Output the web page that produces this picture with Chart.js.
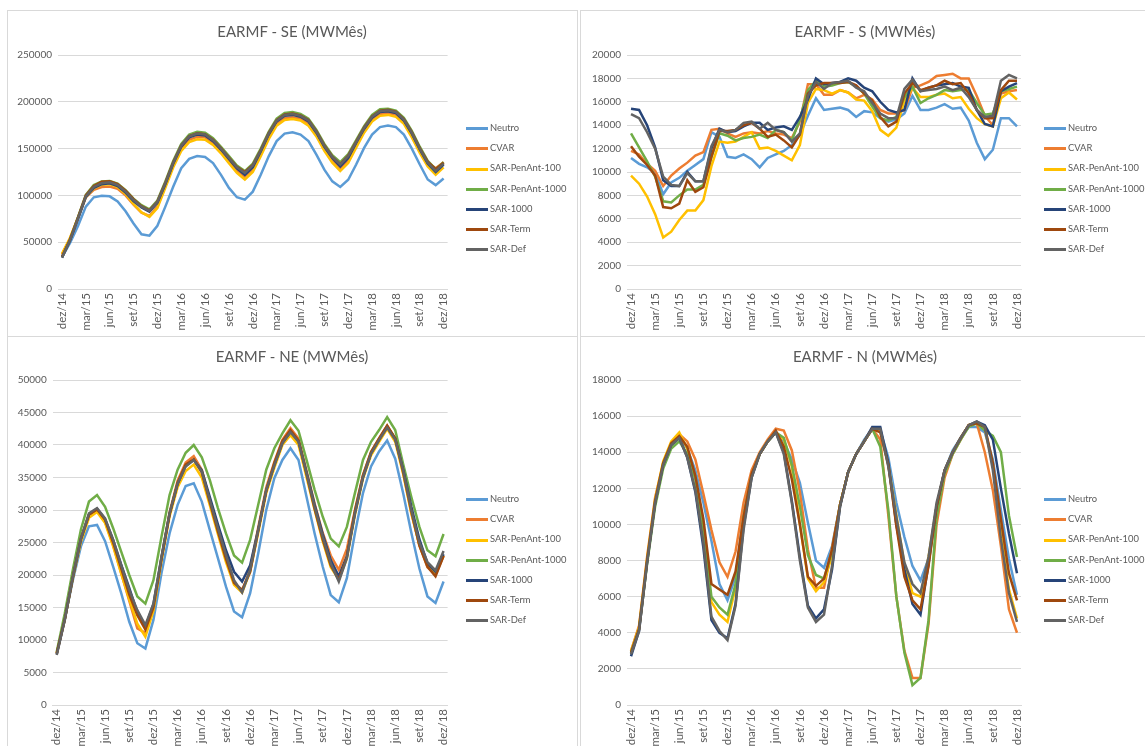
<!DOCTYPE html>
<html>
<head>
<meta charset="utf-8">
<script src="https://cdn.jsdelivr.net/npm/chart.js@4.4.1/dist/chart.umd.min.js"></script>
<style>
    body { margin: 0; background: #fff; width: 1145px; height: 746px; overflow: hidden; position: relative; font-family: Lato, "Liberation Sans", sans-serif; }
    .panel { position: absolute; border: 1px solid #d9d9d9; box-sizing: border-box; background: #fff; }
    .box { position: absolute; }
    .title { position: absolute; color: #595959; font-size: 15px; transform: translate(-50%, -50%); white-space: nowrap; }
    .legend { position: absolute; color: #595959; font-size: 9.4px; }
    .legend div { position: relative; height: 20.2px; line-height: 20.2px; white-space: nowrap; }
    .legend span { display: inline-block; width: 22px; height: 3px; vertical-align: middle; margin-right: 2px; }
</style>
</head>
<body>
<script>
    const months = ['dez/14', 'jan/15', 'fev/15', 'mar/15', 'abr/15', 'mai/15', 'jun/15', 'jul/15', 'ago/15', 'set/15', 'out/15', 'nov/15',
        'dez/15', 'jan/16', 'fev/16', 'mar/16', 'abr/16', 'mai/16', 'jun/16', 'jul/16', 'ago/16', 'set/16', 'out/16', 'nov/16',
        'dez/16', 'jan/17', 'fev/17', 'mar/17', 'abr/17', 'mai/17', 'jun/17', 'jul/17', 'ago/17', 'set/17', 'out/17', 'nov/17',
        'dez/17', 'jan/18', 'fev/18', 'mar/18', 'abr/18', 'mai/18', 'jun/18', 'jul/18', 'ago/18', 'set/18', 'out/18', 'nov/18', 'dez/18'];

    const seriesNames = ['Neutro', 'CVAR', 'SAR-PenAnt-100', 'SAR-PenAnt-1000', 'SAR-1000', 'SAR-Term', 'SAR-Def'];
    const seriesColors = ['#5b9bd5', '#ed7d31', '#ffc000', '#70ad47', '#264478', '#9e480e', '#636363'];

    // EARMF - SE
    const seNeutro = [34000, 49000, 67000, 88000, 98000, 99600, 99000, 93500, 83000, 70000, 58500, 57000, 67500, 88000, 109500, 129000, 139000, 142000, 141000, 134500, 122000, 108000, 98000, 95500, 104000, 122000, 141700, 158000, 166000, 167500, 165000, 158000, 143500, 127500, 115000, 109000, 116700, 133000, 150700, 165000, 173000, 174600, 173000, 165000, 150000, 133000, 117000, 111000, 118000];
    const seCvar = [37000, 54000, 76000, 98000, 106000, 109000, 109500, 107000, 100000, 90000, 81500, 78000, 88000, 110000, 132000, 150000, 159500, 162500, 162000, 156000, 147000, 137000, 127000, 120000, 128000, 144000, 162500, 176500, 182500, 183500, 182000, 176500, 165000, 150000, 138000, 129000, 137500, 153500, 169000, 181000, 187000, 188000, 186000, 179000, 165000, 149000, 135000, 129000, 135500];
    const sePenAnt100 = [37500, 54500, 76000, 98500, 107500, 111500, 112000, 109000, 101500, 91000, 82000, 77000, 86500, 108000, 130000, 147500, 157000, 160000, 159500, 154000, 145000, 134500, 124000, 117000, 125000, 142000, 160000, 174500, 180500, 181500, 180000, 174500, 163000, 147500, 135000, 126000, 134500, 151000, 167000, 179000, 185000, 186000, 184000, 176500, 162000, 145500, 131000, 122000, 130000];
    const sePenAnt1000 = [34000, 52500, 76500, 100500, 111000, 115000, 115500, 112500, 105500, 96500, 89500, 85000, 94500, 115000, 137000, 155000, 165000, 168000, 167000, 161000, 152000, 142000, 132000, 126000, 134000, 150000, 168000, 182000, 188000, 189000, 187000, 182000, 170000, 155000, 143000, 135500, 144000, 159000, 174000, 186000, 192000, 192500, 190500, 183000, 169000, 152000, 137000, 128000, 135500];
    const seSar1000 = [33500, 51500, 74500, 98500, 108000, 112000, 113000, 110000, 103000, 94000, 87000, 82500, 92000, 112000, 134000, 152000, 162000, 165000, 164000, 158000, 149000, 139000, 129000, 122000, 130000, 147000, 165000, 179000, 185000, 186000, 184000, 179000, 167000, 152000, 140000, 131000, 140000, 156000, 171000, 183000, 189000, 190000, 188000, 180000, 166000, 149000, 134000, 125000, 133000];
    const seTerm = [34500, 52500, 76000, 100000, 110000, 114500, 115000, 112000, 105000, 96000, 88500, 84000, 93500, 113500, 135500, 153500, 163500, 166500, 165500, 159500, 150500, 140500, 130500, 125000, 132500, 148500, 166500, 180500, 186500, 187500, 185500, 180500, 168500, 153500, 141500, 133500, 142500, 157500, 172500, 184500, 190500, 191500, 189500, 181500, 167500, 150500, 136000, 128000, 135000];
    const seDef = [33500, 52000, 75000, 99000, 109000, 113000, 114000, 111000, 104000, 95000, 88000, 83500, 93000, 113000, 135000, 153000, 163000, 166000, 165000, 159000, 150000, 140000, 130000, 124000, 132000, 148000, 166000, 180000, 186000, 187000, 185000, 180000, 168000, 153000, 141000, 133000, 142000, 157000, 172000, 184000, 190000, 191000, 189000, 181000, 167000, 150000, 135000, 126000, 134000];

    // EARMF - S
    const sNeutro = [11200, 10700, 10400, 9900, 8100, 9100, 9500, 10100, 10600, 11100, 13400, 13000, 11300, 11200, 11500, 11100, 10400, 11200, 11500, 11800, 12300, 13200, 14800, 16300, 15300, 15400, 15500, 15300, 14700, 15200, 15100, 14600, 14300, 14500, 15000, 16500, 15300, 15300, 15500, 15800, 15400, 15500, 14400, 12500, 11100, 11900, 14600, 14600, 13900];
    const sCvar = [11800, 11500, 10700, 10100, 8800, 9700, 10300, 10800, 11400, 11700, 13600, 13700, 13300, 13000, 13300, 13400, 13300, 13500, 13300, 13200, 12900, 14300, 17500, 17500, 16600, 16600, 17000, 16800, 16300, 16600, 16200, 15300, 15000, 15000, 15300, 17200, 17400, 17700, 18200, 18300, 18400, 18000, 18000, 16500, 14800, 14000, 16700, 16900, 17000];
    const sPenAnt100 = [9700, 9000, 7900, 6400, 4400, 4900, 5900, 6700, 6700, 7600, 10500, 12600, 12500, 12600, 13000, 13400, 12000, 12100, 11800, 11400, 11000, 12300, 15900, 17100, 17000, 16700, 17000, 16800, 16200, 16100, 15200, 13600, 13100, 13800, 16100, 17200, 16400, 16400, 16600, 16700, 16300, 16400, 15400, 14600, 14100, 13900, 16300, 16800, 16200];
    const sPenAnt1000 = [13300, 12100, 10900, 9600, 7500, 7400, 8000, 8500, 8500, 8900, 11300, 13300, 13100, 12700, 12900, 13000, 13200, 12900, 13600, 13400, 12700, 14500, 17000, 17800, 17300, 17400, 17600, 17700, 17300, 16700, 15600, 14600, 14400, 14700, 16400, 17300, 15900, 16300, 16600, 17000, 16900, 17000, 17000, 15900, 14900, 15000, 16900, 17100, 17300];
    const sSar1000 = [15400, 15300, 14000, 12100, 9300, 8800, 8800, 10000, 9200, 9200, 12000, 13700, 13400, 13500, 13900, 14200, 14200, 13600, 13800, 13900, 13600, 14700, 16200, 18000, 17500, 17600, 17700, 18000, 17800, 17200, 16900, 16000, 15300, 15100, 15300, 18000, 16900, 17200, 17400, 17500, 17600, 17300, 17200, 15300, 14100, 13900, 16900, 17300, 17600];
    const sTerm = [12200, 11300, 10600, 9700, 7000, 6900, 7300, 9300, 8300, 8700, 11300, 13500, 13500, 13600, 14000, 14200, 13700, 13000, 13200, 12700, 12100, 13200, 16700, 17400, 17600, 17600, 17600, 17700, 17400, 16700, 16100, 14700, 13900, 14300, 16700, 17600, 17000, 17200, 17400, 17800, 17500, 17600, 16700, 15300, 14600, 14600, 17000, 17800, 17800];
    const sDef = [14950, 14600, 13400, 12000, 9600, 8900, 8800, 9900, 9200, 9200, 12200, 13600, 13400, 13600, 14200, 14300, 13700, 14200, 13600, 13400, 12600, 13300, 16500, 17700, 17100, 17600, 17700, 17800, 17200, 16900, 15900, 15000, 14600, 14600, 17100, 17900, 16900, 17000, 17100, 17300, 17000, 17200, 16400, 15300, 14700, 14800, 17800, 18300, 18000];

    // EARMF - NE
    const neNeutro = [7950, 13300, 19200, 24400, 27500, 27700, 25200, 21300, 17200, 12800, 9500, 8700, 13100, 20300, 26400, 30800, 33700, 34100, 31300, 26900, 22600, 18200, 14400, 13500, 17200, 23300, 30000, 34900, 37700, 39500, 37700, 32000, 26400, 21300, 16900, 15800, 19500, 26400, 32600, 36700, 39000, 40700, 37900, 32500, 26500, 21000, 16700, 15700, 19000];
    const neCvar = [8000, 13300, 19800, 25500, 29200, 30000, 28200, 24600, 20300, 16000, 11800, 11100, 15000, 22600, 29600, 34500, 37300, 38300, 36200, 31500, 26800, 22600, 18900, 17500, 20900, 27300, 33500, 37400, 40800, 42600, 41000, 36000, 31000, 26500, 23000, 20800, 24000, 30000, 35400, 38900, 41000, 43000, 41000, 35600, 29500, 24600, 21200, 20000, 23000];
    const nePenAnt100 = [8000, 13200, 19500, 25100, 28800, 29700, 28000, 24400, 20200, 16300, 12500, 10500, 14500, 22200, 29000, 33500, 36000, 37000, 35000, 30700, 26300, 22000, 18500, 17300, 20500, 26500, 32600, 36500, 40000, 41500, 40000, 35000, 30000, 25200, 21200, 19300, 22500, 29200, 34800, 38400, 40500, 42500, 40500, 35500, 29500, 24600, 21500, 20300, 23000];
    const nePenAnt1000 = [8200, 14100, 20800, 27000, 31300, 32300, 30500, 27200, 23600, 20000, 16700, 15600, 19200, 25900, 32300, 36200, 38800, 40000, 38100, 34600, 30300, 26400, 23000, 21900, 25400, 30800, 36200, 39500, 41800, 43800, 42200, 37700, 33100, 29000, 25600, 24400, 27400, 32600, 37700, 40500, 42300, 44300, 42300, 37000, 32000, 27400, 23800, 22900, 26300];
    const neSar1000 = [7800, 13100, 19600, 25500, 29300, 30200, 28600, 25400, 21600, 18000, 14200, 12000, 15500, 22700, 29400, 34000, 36800, 37700, 36100, 32000, 27800, 23800, 20500, 19000, 21500, 27000, 33000, 36900, 40300, 42000, 40600, 35800, 30800, 26300, 22300, 19800, 22900, 29500, 35000, 38700, 40800, 42800, 41000, 36200, 30500, 25500, 21800, 20500, 23200];
    const neTerm = [7900, 13200, 19700, 25600, 29300, 30100, 28500, 25000, 21000, 17000, 13800, 11600, 15000, 22500, 29300, 34200, 37000, 37800, 35800, 31200, 26700, 22500, 18800, 17700, 20500, 26800, 33000, 37200, 40600, 42300, 40700, 35500, 30200, 25500, 21500, 19300, 22800, 29800, 35300, 38900, 41000, 43000, 41000, 35800, 29800, 24500, 21300, 19800, 22900];
    const neDef = [7700, 13100, 19700, 25600, 29500, 30300, 28700, 25400, 21500, 17700, 14600, 12300, 15600, 22800, 29500, 34100, 36700, 37700, 35900, 31500, 27200, 23100, 19200, 17300, 20800, 26900, 33100, 36900, 40300, 42000, 40500, 35600, 30500, 25900, 21800, 19000, 22600, 29500, 35100, 38700, 40800, 42700, 40800, 36000, 30000, 25000, 22000, 20700, 23700];

    // EARMF - N
    const nNeutro = [2900, 4300, 8000, 11300, 13300, 14400, 14800, 14200, 13000, 11200, 9100, 6700, 5800, 7100, 10600, 12800, 13900, 14600, 15100, 14600, 13600, 12300, 10100, 8000, 7600, 8800, 11100, 12900, 13900, 14700, 15300, 15200, 13700, 11200, 9300, 7700, 6900, 8100, 11000, 13000, 14100, 14800, 15400, 15400, 15100, 13600, 10800, 8100, 6100];
    const nCvar = [3000, 4400, 8200, 11500, 13400, 14500, 15000, 14600, 13600, 11700, 9700, 7900, 7100, 8500, 11200, 13000, 14000, 14700, 15300, 15200, 14100, 11800, 8600, 6500, 6500, 8700, 11100, 12900, 13900, 14600, 15300, 14700, 10500, 6000, 3000, 1500, 1500, 4500, 10000, 12600, 13900, 14700, 15500, 15600, 14000, 11900, 8800, 5300, 4000];
    const nPenAnt100 = [3000, 4300, 8100, 11400, 13500, 14600, 15100, 14200, 12600, 9500, 5700, 5000, 4600, 6500, 10300, 12700, 13900, 14600, 15100, 14700, 13200, 10000, 7000, 6300, 6800, 8300, 11100, 12900, 13900, 14600, 15300, 15200, 13300, 10500, 7800, 6200, 6000, 8200, 11000, 13000, 14000, 14800, 15500, 15600, 15300, 13300, 9700, 6400, 4800];
    const nPenAnt1000 = [2900, 4200, 7800, 11000, 13100, 14200, 14600, 13900, 12500, 9800, 6000, 5400, 5000, 6700, 10400, 12700, 13900, 14600, 15100, 14800, 13300, 11000, 8300, 7200, 7000, 8500, 11100, 12900, 13900, 14600, 15300, 14300, 10800, 6000, 2900, 1100, 1500, 4700, 10400, 12800, 13900, 14700, 15400, 15600, 15200, 14900, 14000, 10500, 8200];
    const nSar1000 = [2700, 4100, 7900, 11200, 13300, 14400, 14800, 13700, 11800, 8700, 4700, 4000, 3700, 5600, 9900, 12600, 13900, 14600, 15100, 14000, 11300, 8200, 5500, 4800, 5300, 7500, 11000, 12900, 13900, 14600, 15400, 15400, 13400, 10000, 7500, 5600, 5000, 7800, 11000, 13000, 14000, 14800, 15500, 15700, 15500, 14700, 12000, 9500, 7300];
    const nTerm = [2900, 4200, 8000, 11300, 13400, 14500, 14900, 14300, 12700, 10300, 6700, 6400, 6100, 7400, 10400, 12800, 13900, 14600, 15200, 14300, 12500, 10000, 7100, 6600, 7000, 8600, 11100, 12900, 13900, 14600, 15300, 15100, 13300, 9900, 7100, 5800, 5300, 7700, 11000, 13000, 14000, 14800, 15500, 15600, 15400, 13400, 10300, 7300, 5800];
    const nDef = [2800, 4100, 7900, 11200, 13300, 14400, 14800, 13700, 11900, 9000, 4900, 4100, 3600, 5500, 9700, 12600, 13900, 14600, 15100, 13900, 11200, 8000, 5400, 4600, 5000, 7700, 11000, 12900, 13900, 14600, 15300, 15300, 13200, 10400, 7900, 6700, 6200, 8200, 11200, 13000, 14000, 14800, 15500, 15700, 15400, 13000, 9200, 6200, 4600];

    const panels = [
        { title: 'EARMF - SE (MWMês)', series: [seNeutro, seCvar, sePenAnt100, sePenAnt1000, seSar1000, seTerm, seDef], max: 250000, step: 50000,
          box: [7, 10, 571, 327], area: [58, 55, 447.6, 289], titleAt: [292, 31], legendAt: [466, 118] },
        { title: 'EARMF - S (MWMês)', series: [sNeutro, sCvar, sPenAnt100, sPenAnt1000, sSar1000, sTerm, sDef], max: 20000, step: 2000,
          box: [580, 10, 575, 327], area: [627, 55, 1021, 289], titleAt: [865, 31], legendAt: [1044, 118] },
        { title: 'EARMF - NE (MWMês)', series: [neNeutro, neCvar, nePenAnt100, nePenAnt1000, neSar1000, neTerm, neDef], max: 50000, step: 5000,
          box: [7, 336, 571, 420], area: [52.7, 380, 447.6, 705], titleAt: [292, 356], legendAt: [466, 489] },
        { title: 'EARMF - N (MWMês)', series: [nNeutro, nCvar, nPenAnt100, nPenAnt1000, nSar1000, nTerm, nDef], max: 18000, step: 2000,
          box: [580, 336, 575, 420], area: [627, 380, 1021, 705], titleAt: [865, 356], legendAt: [1044, 489] }
    ];

    const Y_AXIS_W = 45;
    const X_AXIS_H = 45;

    panels.forEach(function (p, n) {
        const frame = document.createElement('div');
        frame.className = 'panel';
        frame.style.left = p.box[0] + 'px';
        frame.style.top = p.box[1] + 'px';
        frame.style.width = p.box[2] + 'px';
        frame.style.height = p.box[3] + 'px';
        document.body.appendChild(frame);

        const holder = document.createElement('div');
        holder.className = 'box';
        holder.style.left = p.box[0] + 'px';
        holder.style.top = p.box[1] + 'px';
        holder.style.width = p.box[2] + 'px';
        holder.style.height = p.box[3] + 'px';
        const canvas = document.createElement('canvas');
        canvas.id = 'chart' + n;
        holder.appendChild(canvas);
        document.body.appendChild(holder);

        const title = document.createElement('div');
        title.className = 'title';
        title.textContent = p.title;
        title.style.left = p.titleAt[0] + 'px';
        title.style.top = p.titleAt[1] + 'px';
        document.body.appendChild(title);

        const legend = document.createElement('div');
        legend.className = 'legend';
        legend.style.left = p.legendAt[0] + 'px';
        legend.style.top = p.legendAt[1] + 'px';
        seriesNames.forEach(function (name, i) {
            const row = document.createElement('div');
            row.innerHTML = '<span style="background:' + seriesColors[i] + '"></span>' + name;
            legend.appendChild(row);
        });
        document.body.appendChild(legend);

        const pad = {
            left: p.area[0] - p.box[0] - Y_AXIS_W,
            top: p.area[1] - p.box[1],
            right: p.box[0] + p.box[2] - p.area[2],
            bottom: p.box[1] + p.box[3] - p.area[3] - X_AXIS_H
        };

        new Chart(canvas, {
            type: 'line',
            data: {
                labels: months,
                datasets: p.series.map(function (values, i) {
                    return {
                        label: seriesNames[i],
                        data: values,
                        borderColor: seriesColors[i],
                        backgroundColor: seriesColors[i],
                        borderWidth: 2.5,
                        pointRadius: 0,
                        tension: 0,
                        order: seriesNames.length - i
                    };
                })
            },
            options: {
                responsive: true,
                maintainAspectRatio: false,
                animation: false,
                devicePixelRatio: 1,
                layout: { padding: pad },
                plugins: {
                    legend: { display: false },
                    title: { display: false },
                    tooltip: { enabled: false }
                },
                scales: {
                    x: {
                        offset: true,
                        grid: { display: false, drawTicks: false },
                        border: { display: true, color: '#d9d9d9' },
                        afterFit: function (scale) { scale.height = X_AXIS_H; },
                        ticks: {
                            autoSkip: false,
                            maxRotation: 90,
                            minRotation: 90,
                            padding: 4,
                            color: '#595959',
                            font: { family: 'Lato', size: 11.5 },
                            callback: function (value, index) { return index % 3 === 0 ? months[index] : ''; }
                        }
                    },
                    y: {
                        min: 0,
                        max: p.max,
                        grid: { color: '#d9d9d9', drawTicks: false },
                        border: { display: false },
                        afterFit: function (scale) { scale.width = Y_AXIS_W; },
                        ticks: {
                            stepSize: p.step,
                            padding: 6,
                            color: '#595959',
                            font: { family: 'Lato', size: 10 },
                            callback: function (value) { return String(value); }
                        }
                    }
                }
            }
        });
    });
</script>
</body>
</html>
